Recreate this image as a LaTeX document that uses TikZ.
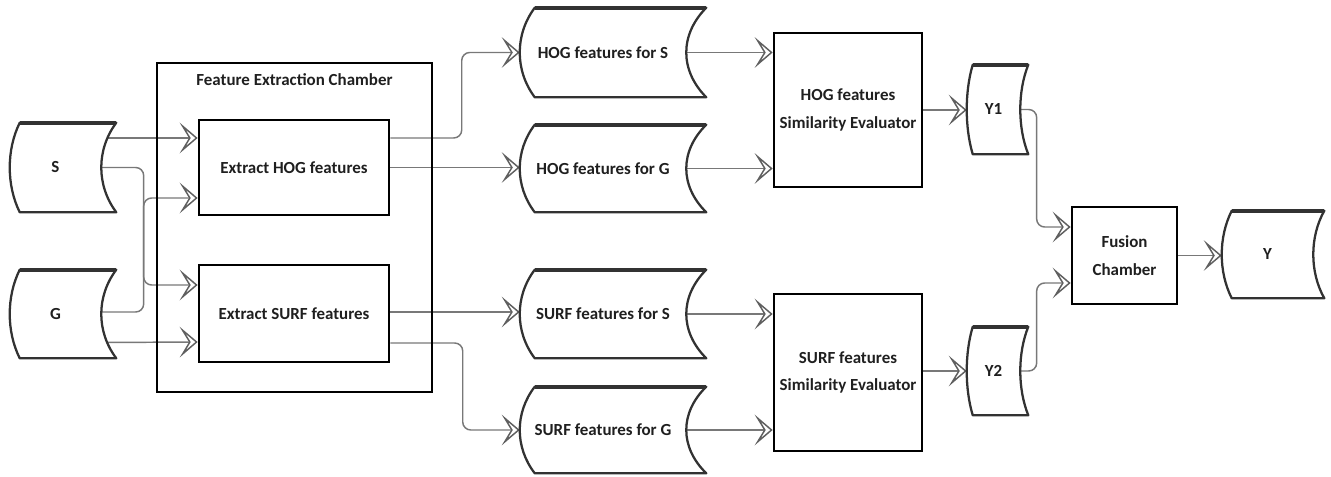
\documentclass[tikz,border=0pt]{standalone}
\usepackage{fontspec}
\setmainfont{Carlito}
\usetikzlibrary{arrows.meta,calc}
\pgfdeclarelayer{connlayer}
\pgfdeclarelayer{shplayer}
\pgfsetlayers{connlayer,shplayer,main}
\definecolor{conncol}{RGB}{120,120,120}
\definecolor{tipcol}{RGB}{95,95,95}
\definecolor{shpcol}{RGB}{50,50,50}
\tikzset{
  sz/.style 2 args={minimum width={#1*0.75pt}, minimum height={#2*0.75pt}},
  txt/.style={font=\fontsize{12.7}{20.5}\selectfont\bfseries, text={black!88}, align=center},
  sd/.style={txt, inner sep=0pt, draw=none},
  blk/.style={txt, inner sep=0pt, draw=black, line width=2pt},
  outerbox/.style={inner sep=0pt, draw=black, line width=1.9pt},
  sdline/.style={draw=shpcol, fill=white, line width=1.7pt, line join=round},
  sdtop/.style={draw=shpcol, line width=2.7pt, line cap=butt},
  conn/.style={draw=conncol, line width=1.1pt,
    -{Stealth[open, length=13.5pt, width=23pt, inset=7pt, line width=1.1pt, color=tipcol]}},
  rc/.style={rounded corners=6pt}
}
\newcommand\sdshape[3]{%
  \draw[sdline] ($(#1.north west)+(#2,0)$) -- ($(#1.north east)+(#3,0)$)
    .. controls ($(#1.north east)!0.3!(#1.south east)+(-#3/3,0)$)
       and ($(#1.north east)!0.7!(#1.south east)+(-#3/3,0)$)
    .. ($(#1.south east)+(#3,0)$)
    -- ($(#1.south west)+(#2,0)$)
    .. controls ($(#1.north west)!0.7!(#1.south west)+(-#2/3,0)$)
       and ($(#1.north west)!0.3!(#1.south west)+(-#2/3,0)$)
    .. cycle;
  \draw[sdtop] ($(#1.north west)+(#2,0)$) -- ($(#1.north east)+(#3,0)$);
}
\begin{document}
\begin{tikzpicture}[x=0.75pt,y=-0.75pt]
\useasboundingbox (0,0) rectangle (1331,477);
% stored-data nodes
\node[sd, sz={91}{89}] (S) at (55.5,167.5) {S};
\node[sd, sz={91}{88}] (G) at (55.5,314) {G};
\node[sd, sz={166}{89}] (hogS) at (603,52.5) {HOG features for S};
\node[sd, sz={166}{87}] (hogG) at (603,168.5) {HOG features for G};
\node[sd, sz={166}{88}] (surfS) at (603,314) {SURF features for S};
\node[sd, sz={166}{86}] (surfG) at (603,430) {SURF features for G};
\node[sd, sz={53}{89}] (Y1) at (993.5,109.5) {Y1};
\node[sd, sz={53}{88}] (Y2) at (993.5,371) {Y2};
\node[sd, sz={91}{87}] (Y) at (1267.5,254.5) {Y};
% boxes
\node[outerbox, sz={275}{329}] (fec) at (294.5,227.5) {};
\node[txt, inner sep=0pt] (fectitle) at ($(fec.north)+(0,18)$) {Feature Extraction Chamber};
\node[blk, sz={190}{95}] (exhog) at (294,167.5) {Extract HOG features};
\node[blk, sz={190}{97}] (exsurf) at (294,313.5) {Extract SURF features};
\node[blk, sz={148}{154}] (hogEval) at (848,110) {HOG features\\Similarity Evaluator};
\node[blk, sz={148}{157}] (surfEval) at (848,372.5) {SURF features\\Similarity Evaluator};
\node[blk, sz={105}{97}] (fusion) at (1124.5,255.5) {Fusion\\Chamber};
% shapes
\begin{pgfonlayer}{shplayer}
\sdshape{S}{10}{15}
\sdshape{G}{10}{15}
\sdshape{hogS}{15}{20}
\sdshape{hogG}{15}{20}
\sdshape{surfS}{15}{20}
\sdshape{surfG}{15}{20}
\sdshape{Y1}{6}{8}
\sdshape{Y2}{6}{8}
\sdshape{Y}{10}{11}
\end{pgfonlayer}
% connectors
\begin{pgfonlayer}{connlayer}
\draw[conn] ($(S.east)+(0,-29.5)$) -- ($(exhog.west)+(0,-29.5)$);
\draw[conn, rc] (S.east) -| ($(exsurf.west)+(-54,-28.5)$) -- ($(exsurf.west)+(0,-28.5)$);
\draw[conn, rc] ($(G.east)+(0,-2)$) -| ($(exhog.west)+(-54,30.5)$) -- ($(exhog.west)+(0,30.5)$);
\draw[conn] ($(G.east)+(0,28.5)$) -- ($(exsurf.west)+(0,28.5)$);
\draw[conn, rc] ($(exhog.east)+(0,-29.5)$) -| ($(hogS.west)+(-58,0)$) -- (hogS.west);
\draw[conn] (exhog.east) -- (exhog.east -| hogG.west);
\draw[conn] ($(exsurf.east)+(0,-1.5)$) -- ($(exsurf.east -| surfS.west)+(0,-1.5)$);
\draw[conn, rc] ($(exsurf.east)+(0,29.5)$) -| ($(surfG.west)+(-57,0)$) -- (surfG.west);
\draw[conn] (hogS.east) -- (hogS.east -| hogEval.west);
\draw[conn] (hogG.east) -- (hogG.east -| hogEval.west);
\draw[conn] (surfS.east) -- (surfS.east -| surfEval.west);
\draw[conn] (surfG.east) -- (surfG.east -| surfEval.west);
\draw[conn] (hogEval.east) -- (hogEval.east -| Y1.west);
\draw[conn] (Y2.west -| surfEval.east) -- (Y2.west);
\draw[conn, rc] (Y1.east) -| ($(fusion.west)+(-34,-28.5)$) -- ($(fusion.west)+(0,-28.5)$);
\draw[conn, rc] (Y2.east) -| ($(fusion.west)+(-34,27.5)$) -- ($(fusion.west)+(0,27.5)$);
\draw[conn] (fusion.east) -- (fusion.east -| Y.west);
\end{pgfonlayer}
\end{tikzpicture}
\end{document}
